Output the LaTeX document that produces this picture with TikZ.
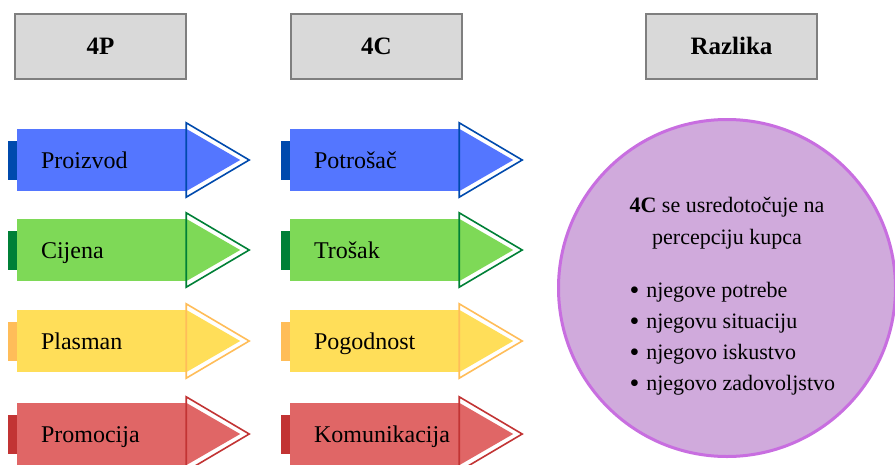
\documentclass[tikz,border=0pt]{standalone}
\usepackage{fontspec}
\setmainfont{Liberation Serif}
\usetikzlibrary{positioning}
\definecolor{hdrfill}{HTML}{D9D9D9}
\definecolor{hdrline}{HTML}{7F7F7F}
\definecolor{plavab}{HTML}{5476FF}
\definecolor{plavat}{HTML}{004AAD}
\definecolor{zelenab}{HTML}{7ED957}
\definecolor{zelenat}{HTML}{008037}
\definecolor{zutab}{HTML}{FFDE59}
\definecolor{zutat}{HTML}{FFBD59}
\definecolor{crvenab}{HTML}{E06666}
\definecolor{crvenat}{HTML}{C23434}
\definecolor{ljubb}{HTML}{D0AADC}
\definecolor{ljubt}{HTML}{C86EE0}
\tikzset{
    hdrnode/.style = {rectangle, line width=2pt, draw=hdrline, fill=hdrfill, minimum width=171pt, minimum height=65pt, font=\fontsize{25}{28}\selectfont\bfseries},
    bodynode/.style = {rectangle, inner ysep=0pt, inner xsep=24pt, text width=121pt, text height=19pt, text depth=3pt, minimum height=62pt, align=left, font=\fontsize{24}{28}\selectfont, fill=#1},
    tabnode/.style = {rectangle, inner sep=0pt, minimum width=9pt, minimum height=39pt, anchor=east, fill=#1},
    tipin/.style = {fill=#1},
    tipout/.style = {draw=#1, line width=1.6pt, line join=miter},
    krug/.style = {circle, line width=3pt, draw=ljubt, fill=ljubb, minimum size=337pt, inner sep=0pt},
    krugtext/.style = {align=center, font=\fontsize{22}{32}\selectfont}
}
\newcommand{\vrh}[3]{%
  \fill[tipin=#2] (#1.north east) -- (#1.south east) -- ([xshift=54pt]#1.east) -- cycle;
  \draw[tipout=#3] ([yshift=6pt]#1.north east) -- ([yshift=-6pt]#1.south east) -- ([xshift=63pt]#1.east) -- cycle;
}
\newcommand{\tocka}{{\fontsize{28}{31}\selectfont\raisebox{-1.5pt}{\textbullet}}\hspace{7pt}}
\begin{document}
\begin{tikzpicture}[x=1pt,y=-1pt]
\path[use as bounding box, fill=white] (0,0) rectangle (895,464);
%
\node[hdrnode] at (100.5,46) (h4p) {4P};
\node[hdrnode] at (376.5,46) (h4c) {4C};
\node[hdrnode] at (731.5,46) (hraz) {Razlika};
%
\node[bodynode=plavab] at (101.5,160) (p1) {Proizvod};
\node[tabnode=plavat] at (p1.west) (t1) {};
\vrh{p1}{plavab}{plavat}
\node[bodynode=zelenab] at (101.5,250) (p2) {Cijena};
\node[tabnode=zelenat] at (p2.west) (t2) {};
\vrh{p2}{zelenab}{zelenat}
\node[bodynode=zutab] at (101.5,341) (p3) {Plasman};
\node[tabnode=zutat] at (p3.west) (t3) {};
\vrh{p3}{zutab}{zutat}
\node[bodynode=crvenab] at (101.5,434) (p4) {Promocija};
\node[tabnode=crvenat] at (p4.west) (t4) {};
\vrh{p4}{crvenab}{crvenat}
%
\node[bodynode=plavab] at (374.5,160) (c1) {Potrošač};
\node[tabnode=plavat] at (c1.west) (s1) {};
\vrh{c1}{plavab}{plavat}
\node[bodynode=zelenab] at (374.5,250) (c2) {Trošak};
\node[tabnode=zelenat] at (c2.west) (s2) {};
\vrh{c2}{zelenab}{zelenat}
\node[bodynode=zutab] at (374.5,341) (c3) {Pogodnost};
\node[tabnode=zutat] at (c3.west) (s3) {};
\vrh{c3}{zutab}{zutat}
\node[bodynode=crvenab] at (374.5,434) (c4) {Komunikacija};
\node[tabnode=crvenat] at (c4.west) (s4) {};
\vrh{c4}{crvenab}{crvenat}
%
\node[krug] at (727,288) (k) {};
\node[krugtext] at (727,223) (kt) {\textbf{4C} se usredotočuje na\\percepciju kupca};
\node[krugtext, align=left, anchor=west, font=\fontsize{22}{31}\selectfont] at (626,339) (kl) {\tocka njegove potrebe\\\tocka njegovu situaciju\\\tocka njegovo iskustvo\\\tocka njegovo zadovoljstvo};
\end{tikzpicture}
\end{document}
